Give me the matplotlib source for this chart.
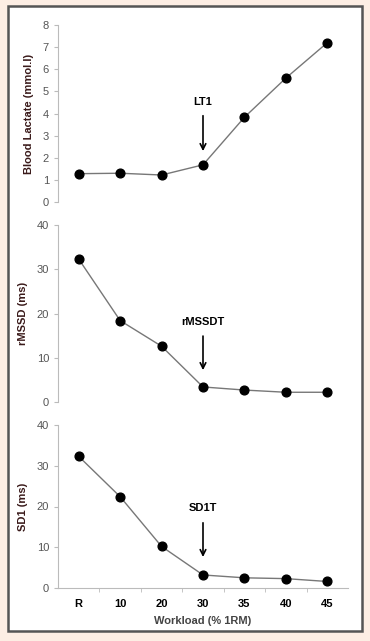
import matplotlib
matplotlib.use("Agg")
import matplotlib.pyplot as plt
from matplotlib.patches import Rectangle

plt.rcParams["font.family"] = ["Liberation Sans", "DejaVu Sans"]

# Data
workload = ["R", "10", "20", "30", "35", "40", "45"]
lactate = [1.28, 1.30, 1.22, 1.68, 3.83, 5.60, 7.20]
rmssd = [32.3, 18.4, 12.6, 3.4, 2.7, 2.2, 2.2]
sd1 = [32.3, 22.4, 10.2, 3.2, 2.5, 2.3, 1.6]

panels = [
    (lactate, "Blood Lactate (mmol.l)", (0, 8), range(0, 9), "LT1", (4.5, 3.9, 2.3)),
    (rmssd, "rMSSD (ms)", (0, 40), range(0, 41, 10), "rMSSDT", (18.0, 14.9, 7.2)),
    (sd1, "SD1 (ms)", (0, 40), range(0, 41, 10), "SD1T", (19.6, 16.0, 7.6)),
]
thresh_idx = 3

fig = plt.figure(figsize=(3.70, 6.41), dpi=100)
fig.patch.set_facecolor("#fdeee4")
fig.patches.append(Rectangle((8 / 370, 1 - 631 / 641), 354 / 370, 625 / 641,
                             transform=fig.transFigure, facecolor="white",
                             edgecolor="#555555", linewidth=1.8, zorder=-10))

# axes boxes in pixels: top, bottom
boxes = [(25, 202), (225, 402), (425, 588)]
x = list(range(len(workload)))
for i, (vals, ylabel, ylim, yticks, label, (ty, a0, a1)) in enumerate(panels):
    top, bot = boxes[i]
    ax = fig.add_axes([58 / 370, 1 - bot / 641, 290 / 370, (bot - top) / 641])
    ax.set_facecolor("none")
    ax.plot(x, vals, color="#777777", linewidth=1.0, zorder=2)
    ax.plot(x, vals, "o", color="black", markersize=6.3, zorder=3)
    ax.set_xlim(-0.5, 6.5)
    ax.set_ylim(*ylim)
    ax.set_yticks(list(yticks))
    for s in ["top", "right"]:
        ax.spines[s].set_visible(False)
    ax.spines["left"].set_color("#bbbbbb")
    ax.spines["bottom"].set_color("#bbbbbb")
    ax.tick_params(axis="y", colors="#bbbbbb", length=3, labelcolor="#555555", labelsize=8)
    ax.set_ylabel(ylabel, fontsize=8, fontweight="bold", color="#3a1a1a", labelpad=6)
    ax.text(thresh_idx, ty, label, ha="center", va="center", fontsize=8, fontweight="bold")
    ax.annotate("", xy=(thresh_idx, a1), xytext=(thresh_idx, a0),
                arrowprops=dict(arrowstyle="->", color="black", lw=1.2, shrinkA=0, shrinkB=0))
    if i < 2:
        ax.spines["bottom"].set_visible(False)
        ax.set_xticks([])
    else:
        ax.set_xticks(x)
        ax.set_xticklabels(workload, fontsize=8, fontweight="bold")
        ax.set_xticks([v + 0.5 for v in x[:-1]], minor=True)
        ax.tick_params(axis="x", which="major", length=0, pad=8)
        ax.tick_params(axis="x", which="minor", length=3, colors="#bbbbbb")
        ax.set_xlabel("Workload (% 1RM)", fontsize=8, fontweight="bold", color="#444444", labelpad=5)

fig.savefig("out.png", dpi=100, facecolor=fig.get_facecolor())
